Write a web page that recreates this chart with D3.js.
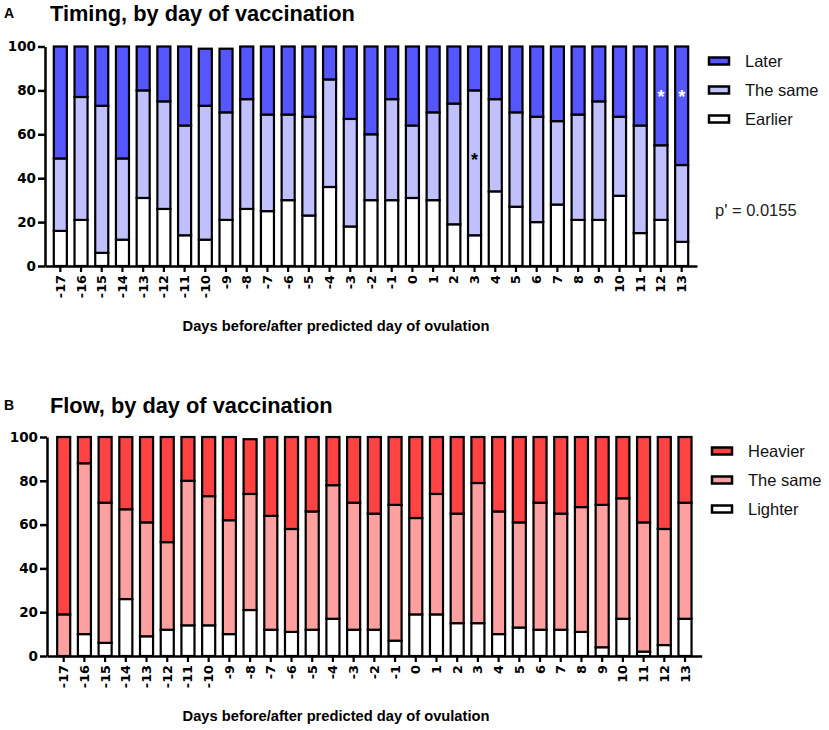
<!DOCTYPE html>
<html>
<head>
<meta charset="utf-8">
<script src="https://cdn.jsdelivr.net/npm/d3@7"></script>
<style>
  html, body { margin: 0; padding: 0; background: #fff; }
  svg { display: block; }
</style>
</head>
<body>
<svg id="chart" width="829" height="730"></svg>
<script>
// ---------------- data ----------------
const days = [-17,-16,-15,-14,-13,-12,-11,-10,-9,-8,-7,-6,-5,-4,-3,-2,-1,0,1,2,3,4,5,6,7,8,9,10,11,12,13];

const timingEarlier = [16,21,6,12,31,26,14,12,21,26,25,30,23,36,18,30,30,31,30,19,14,34,27,20,28,21,21,32,15,21,11];
const timingSame    = [33,56,67,37,49,49,50,61,49,50,44,39,45,49,49,30,46,33,40,55,66,42,43,48,38,48,54,36,49,34,35];
const timingLater   = [51,23,27,51,20,25,36,26,29,24,31,31,32,15,33,40,24,36,30,26,20,24,30,32,34,31,25,32,36,45,54];

const flowLighter = [0,10,6,26,9,12,14,14,10,21,12,11,12,17,12,12,7,19,19,15,15,10,13,12,12,11,4,17,2,5,17];
const flowSame    = [19,78,64,41,52,40,66,59,52,53,52,47,54,61,58,53,62,44,55,50,64,56,48,58,53,57,65,55,59,53,53];
const flowHeavier = [81,12,30,33,39,48,20,27,38,25,36,42,34,22,30,35,31,37,26,35,21,34,39,30,35,32,31,28,39,42,30];

const yTicks = [0,20,40,60,80,100];
const timingKeys = ["Earlier","The same","Later"];
const flowKeys = ["Lighter","The same","Heavier"];
const timingStarDays = [3,12,13];
const timingStarValues = [50,79,79];
const pValueText = "p' = 0.0155";
const xTitle = "Days before/after predicted day of ovulation";

// ---------------- drawing ----------------
const svg = d3.select("#chart");
const tickFont = "'DejaVu Sans', Verdana, sans-serif";
const textFont = "'Liberation Sans', Arial, Helvetica, sans-serif";

function panel(opts) {
  const g = svg.append("g");
  const x = d3.scaleBand().domain(days).range([opts.x0, opts.x1])
    .paddingInner(0.37).paddingOuter(opts.po);
  const y = d3.scaleLinear().domain([0,100]).range([opts.yBase, opts.yTop]);

  const rows = days.map((d,i) => {
    const r = {day: d};
    opts.keys.forEach((k,j) => r[k] = opts.series[j][i]);
    return r;
  });
  const stacked = d3.stack().keys(opts.keys)(rows);

  g.selectAll("g.layer").data(stacked).join("g")
    .attr("class","layer")
    .attr("fill", (s,i) => opts.colors[i])
    .selectAll("rect").data(s => s).join("rect")
      .attr("x", d => x(d.data.day))
      .attr("width", x.bandwidth())
      .attr("y", d => y(d[1]))
      .attr("height", d => y(d[0]) - y(d[1]))
      .attr("stroke", "#000")
      .attr("stroke-width", 2.2);

  // y axis
  const ya = g.append("g").attr("transform", `translate(${opts.x0},0)`)
    .call(d3.axisLeft(y).tickValues(yTicks).tickSize(7).tickSizeOuter(0).tickPadding(2));
  ya.select(".domain").attr("stroke-width", 2.5);
  ya.selectAll(".tick line").attr("stroke-width", 2.5);
  ya.selectAll(".tick text")
    .attr("font-family", tickFont).attr("font-weight","bold")
    .attr("font-size", 13.5).attr("fill","#000");

  // x axis
  const xa = g.append("g").attr("transform", `translate(0,${opts.yBase})`)
    .call(d3.axisBottom(x).tickSize(6).tickSizeOuter(0));
  xa.select(".domain").attr("stroke-width", 2.5);
  xa.selectAll(".tick line").attr("stroke-width", 2.2);
  xa.selectAll(".tick text")
    .attr("font-family", tickFont).attr("font-weight","bold")
    .attr("font-size", 12.8).attr("fill","#000")
    .attr("text-anchor","end")
    .attr("dy", null)
    .attr("transform", "translate(0,9) rotate(-90)")
    .attr("x", 0).attr("y", 0)
    .attr("dominant-baseline","central");

  // axis title
  g.append("text").attr("x", 336).attr("y", opts.yBase + 65)
    .attr("text-anchor","middle").attr("font-family", textFont)
    .attr("font-weight","bold").attr("font-size", 14.7).text(xTitle);

  // panel letter + title
  g.append("text").attr("x", 4).attr("y", opts.titleY - 3)
    .attr("font-family", textFont).attr("font-weight","bold").attr("font-size", 14)
    .text(opts.letter);
  g.append("text").attr("x", 50).attr("y", opts.titleY)
    .attr("font-family", textFont).attr("font-weight","bold").attr("font-size", 21.8)
    .text(opts.title);

  // legend (top to bottom: reverse of stack order)
  const legKeys = opts.keys.slice().reverse();
  const legColors = opts.colors.slice().reverse();
  const leg = g.append("g");
  legKeys.forEach((k,i) => {
    const cy = opts.legY + i*29;
    leg.append("rect").attr("x", opts.legX).attr("y", cy - 3.5)
      .attr("width", 20).attr("height", 7)
      .attr("fill", legColors[i]).attr("stroke","#000").attr("stroke-width",2.5);
    leg.append("text").attr("x", opts.legX + 36).attr("y", cy)
      .attr("dominant-baseline","central")
      .attr("font-family", textFont).attr("font-size", 16.5).attr("fill","#111")
      .text(k);
  });
  return {g, x, y};
}

const A = panel({
  letter: "A", title: "Timing, by day of vaccination", titleY: 21,
  x0: 45, x1: 697, po: 0.425, yBase: 266, yTop: 46.5,
  keys: timingKeys, series: [timingEarlier, timingSame, timingLater],
  colors: ["#ffffff", "#c0c0ff", "#5656ff"],
  legX: 709, legY: 61
});

const B = panel({
  letter: "B", title: "Flow, by day of vaccination", titleY: 413,
  x0: 47, x1: 701.7, po: 0.491, yBase: 656, yTop: 437,
  keys: flowKeys, series: [flowLighter, flowSame, flowHeavier],
  colors: ["#ffffff", "#ffa0a0", "#ff4242"],
  legX: 712, legY: 451
});

// significance stars (panel A)
timingStarDays.forEach((d,i) => {
  A.g.append("text")
    .attr("x", A.x(d) + A.x.bandwidth()/2)
    .attr("y", A.y(timingStarValues[i]) + 10)
    .attr("text-anchor","middle")
    .attr("font-family", textFont).attr("font-weight","bold").attr("font-size", 18)
    .attr("fill", i === 0 ? "#000" : "#fff")
    .text("*");
});

// p value
A.g.append("text").attr("x", 715).attr("y", 216)
  .attr("font-family", textFont).attr("font-size", 16.5).attr("fill","#222")
  .text(pValueText);
</script>
</body>
</html>
